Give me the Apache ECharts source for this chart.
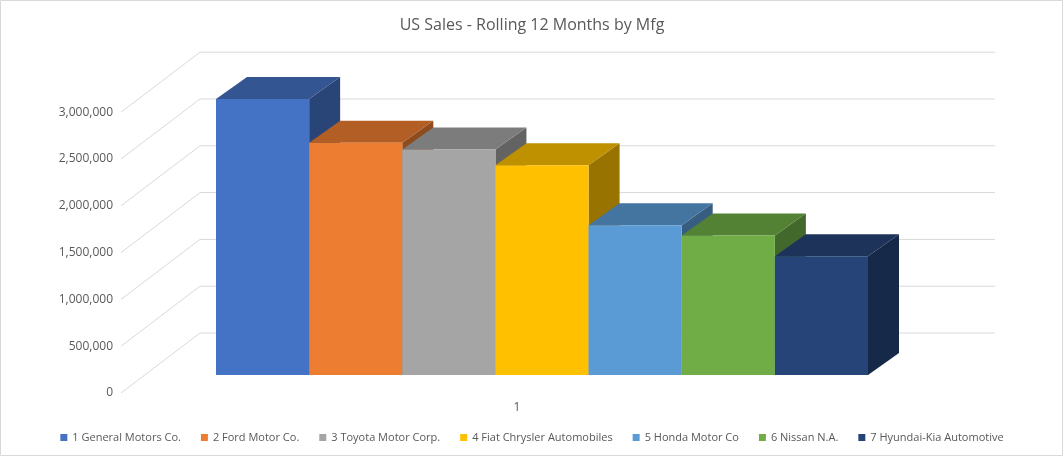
<!DOCTYPE html>
<html><head><meta charset="utf-8">
<script src="https://cdn.jsdelivr.net/npm/echarts@6/dist/echarts.min.js"></script>
<style>html,body{margin:0;padding:0;background:#fff}#c{width:1064px;height:474px}</style>
</head><body><div id="c"></div>
<script>
var makers = ['1 General Motors Co.','2 Ford Motor Co.','3 Toyota Motor Corp.','4 Fiat Chrysler Automobiles','5 Honda Motor Co','6 Nissan N.A.','7 Hyundai-Kia Automotive'];
var sales = [2950000, 2480000, 2410000, 2240000, 1600000, 1490000, 1270000];
var colors = ['#4472C4','#ED7D31','#A5A5A5','#FFC000','#5B9BD5','#70AD47','#264478'];
var tickValues = [0, 500000, 1000000, 1500000, 2000000, 2500000, 3000000];
var categoryLabel = '1';

function shade(hex, f){
  var n=parseInt(hex.slice(1),16);
  var r=Math.round(((n>>16)&255)*f),g=Math.round(((n>>8)&255)*f),b=Math.round((n&255)*f);
  return 'rgb('+r+','+g+','+b+')';
}
var DX=31, DY=-22, WALL=-42;
var chart = echarts.init(document.getElementById('c'));
var series = [];
// gridlines + labels
series.push({
  type:'custom', name:'grid', silent:true, z:1,
  data: tickValues.map(function(v){return [0,v];}),
  renderItem:function(params, api){
    var y = api.coord([0, api.value(1)])[1] + WALL;
    return {type:'group', children:[
      {type:'polyline', shape:{points:[[121,y+60],[200,y],[995,y]]}, style:{stroke:'#d9d9d9', lineWidth:1, fill:null}},
      {type:'text', x:113, y:y+60, style:{text:echarts.format.addCommas(api.value(1)), align:'right', verticalAlign:'middle', fill:'#595959', font:'12px "Segoe UI","Open Sans",Arial,sans-serif'}}
    ]};
  }
});
makers.forEach(function(m, i){
  series.push({
    type:'custom', name:m, z:2, itemStyle:{color:colors[i]},
    data:[[i, sales[i]]],
    renderItem:function(params, api){
      var idx=api.value(0);
      var p0=api.coord([idx,0]), p1=api.coord([idx+1, api.value(1)]);
      var x0=p0[0], x1=p1[0], yb=p0[1], yt=p1[1];
      var c=colors[i];
      return {type:'group', children:[
        {type:'polygon', shape:{points:[[x1,yt],[x1+DX,yt+DY],[x1+DX,yb+DY],[x1,yb]]}, style:{fill:shade(c,0.6)}},
        {type:'polygon', shape:{points:[[x0,yt],[x0+DX,yt+DY],[x1+DX,yt+DY],[x1,yt]]}, style:{fill:shade(c,0.75)}},
        {type:'rect', shape:{x:x0,y:yt,width:x1-x0,height:yb-yt}, style:{fill:c}}
      ]};
    }
  });
});
chart.setOption({
  animation:false,
  title:{text:'US Sales - Rolling 12 Months by Mfg', left:'center', top:12, textStyle:{fontSize:16, fontWeight:'normal', color:'#595959', fontFamily:'"Segoe UI","Open Sans",Arial,sans-serif'}},
  grid:{left:216, right:196, top:47.4, bottom:99},
  xAxis:{type:'value', min:0, max:7, show:false},
  yAxis:{type:'value', min:0, max:3500000, show:false},
  legend:{data:makers, bottom:26, left:'center', icon:'rect', itemWidth:7, itemHeight:7, itemGap:20,
    textStyle:{fontSize:11, color:'#595959', fontFamily:'"Segoe UI","Open Sans",Arial,sans-serif'}},
  graphic:[
    {type:'text', x:517, y:408, style:{text:categoryLabel, align:'center', verticalAlign:'middle', fill:'#595959', font:'12px "Segoe UI","Open Sans",Arial,sans-serif'}},
    {type:'rect', shape:{x:0.5,y:0.5,width:1062,height:455}, style:{fill:null, stroke:'#d9d9d9'}, silent:true}
  ],
  series:series
});
</script></body></html>
